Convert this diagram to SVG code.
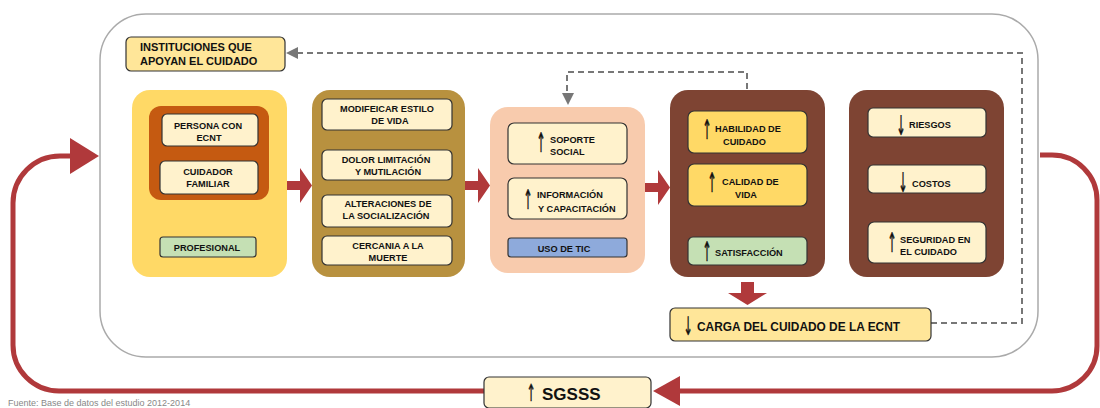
<svg xmlns="http://www.w3.org/2000/svg" width="1100" height="408" viewBox="0 0 1100 408">
<defs>
<style>
text{font-family:"Liberation Sans",Arial,sans-serif;font-weight:bold;fill:#111;}
.t{font-size:9.2px;}
.c{text-anchor:middle;}
.ar{font-family:"DejaVu Sans",sans-serif;font-weight:normal;font-size:18px;text-anchor:middle;fill:#111;stroke:#111;stroke-width:0.4;}
.inner{stroke:#333;stroke-width:1.2;}
.pale{fill:#fff2cc;}
.yel{fill:#ffd966;}
.grn{fill:#c5e0b4;}
.blu{fill:#8eaadb;}
.dash{fill:none;stroke:#777;stroke-width:2;stroke-dasharray:6 4;}
.red{fill:#b0393b;}
.redline{fill:none;stroke:#b0393b;stroke-width:5;}
</style>
</defs>

<rect id="outer-frame" x="100" y="14" width="938" height="343" rx="46" fill="#fff" stroke="#aaa" stroke-width="1.5"/>

<g id="connectors">
<path class="dash" d="M931 323 H1022 V53 H297"/>
<polygon points="286,53 298,47 298,59" fill="#777"/>
<path class="dash" d="M747 89 V72 H567 V93"/>
<polygon points="562,93 574,93 568,105" fill="#777"/>
<polygon class="red" points="287,181 300,181 300,168 312,185.5 300,203 300,190 287,190"/>
<polygon class="red" points="465,181 478,181 478,168 490,185.5 478,203 478,190 465,190"/>
<polygon class="red" points="645,183 658,183 658,170 670,187.5 658,205 658,192 645,192"/>
<polygon class="red" points="741,282 754,282 754,293 767,293 747.5,305 728,293 741,293"/>
<path class="redline" d="M72 156 H60 A47 47 0 0 0 13 203 V345 A46 46 0 0 0 59 391 H484"/>
<polygon class="red" points="99,156 70,138 70,174"/>
<path class="redline" d="M1040 155 H1052 A45 45 0 0 1 1097 200 V346 A45 45 0 0 1 1052 391 H678"/>
<polygon class="red" points="653,391 680,376 680,406"/>
</g>

<g id="instituciones">
<rect class="inner" x="126" y="37" width="159" height="34" rx="5" fill="#ffe699"/>
<text x="140" y="51" font-size="11">INSTITUCIONES QUE</text>
<text x="140" y="65" font-size="11">APOYAN EL CUIDADO</text>
</g>

<g id="box1">
<rect x="132" y="90" width="155" height="187" rx="18" fill="#ffd966"/>
<rect x="149" y="106" width="120" height="94" rx="12" fill="#c55a11"/>
<rect class="inner pale" x="162" y="114" width="96" height="32" rx="5"/>
<text class="t c" x="208" y="129">PERSONA CON</text>
<text class="t c" x="209" y="141">ECNT</text>
<rect class="inner pale" x="160" y="161" width="98" height="33" rx="5"/>
<text class="t c" x="208" y="175">CUIDADOR</text>
<text class="t c" x="208" y="187">FAMILIAR</text>
<rect class="inner grn" x="160" y="237" width="96" height="20" rx="3"/>
<text class="t c" x="207" y="251">PROFESIONAL</text>
</g>

<g id="box2">
<rect x="312" y="90" width="153" height="187" rx="18" fill="#b8913f"/>
<rect class="inner pale" x="322" y="99" width="130" height="31" rx="5"/>
<text class="t c" x="387" y="112">MODIFEICAR ESTILO</text>
<text class="t c" x="390" y="124">DE VIDA</text>
<rect class="inner pale" x="322" y="150" width="130" height="30" rx="5"/>
<text class="t c" x="386" y="163">DOLOR LIMITACIÓN</text>
<text class="t c" x="388" y="175">Y MUTILACIÓN</text>
<rect class="inner pale" x="322" y="195" width="130" height="32" rx="5"/>
<text class="t c" x="388" y="207">ALTERACIONES DE</text>
<text class="t c" x="386" y="219">LA SOCIALIZACIÓN</text>
<rect class="inner pale" x="322" y="236" width="130" height="29" rx="5"/>
<text class="t c" x="388" y="249">CERCANIA A LA</text>
<text class="t c" x="388" y="261">MUERTE</text>
</g>

<g id="box3">
<rect x="490" y="107" width="155" height="166" rx="18" fill="#f8cbad"/>
<rect class="inner pale" x="508" y="123" width="119" height="41" rx="6"/>
<text class="ar" transform="translate(541,152) scale(0.6,1.5)">↑</text>
<text class="t" x="550" y="143">SOPORTE</text>
<text class="t" x="550" y="155">SOCIAL</text>
<rect class="inner pale" x="508" y="178" width="119" height="41" rx="6"/>
<text class="ar" transform="translate(528,209) scale(0.6,1.5)">↑</text>
<text class="t" x="537" y="198">INFORMACIÓN</text>
<text class="t" x="538" y="212">Y CAPACITACIÓN</text>
<rect class="inner blu" x="508" y="238" width="119" height="19" rx="3"/>
<text class="t c" x="564" y="252">USO DE TIC</text>
</g>

<g id="box4">
<rect x="670" y="90" width="155" height="187" rx="18" fill="#7e4433"/>
<rect class="inner yel" x="688" y="111" width="119" height="42" rx="6"/>
<text class="ar" transform="translate(707,139) scale(0.6,1.5)">↑</text>
<text class="t" x="715" y="132">HABILIDAD DE</text>
<text class="t" x="723" y="145">CUIDADO</text>
<rect class="inner yel" x="688" y="164" width="119" height="42" rx="6"/>
<text class="ar" transform="translate(712,192) scale(0.6,1.5)">↑</text>
<text class="t" x="722" y="185">CALIDAD DE</text>
<text class="t" x="735" y="198">VIDA</text>
<rect class="inner grn" x="688" y="237" width="119" height="28" rx="5"/>
<text class="ar" transform="translate(707,261) scale(0.6,1.5)">↑</text>
<text class="t" x="715" y="256">SATISFACCIÓN</text>
</g>

<g id="box5">
<rect x="849" y="90" width="155" height="187" rx="18" fill="#7e4433"/>
<rect class="inner pale" x="868" y="108" width="118" height="29" rx="5"/>
<text class="ar" transform="translate(901,135) scale(0.6,1.5)">↓</text>
<text class="t" x="909" y="128">RIESGOS</text>
<rect class="inner pale" x="868" y="165" width="118" height="28" rx="5"/>
<text class="ar" transform="translate(903,192) scale(0.6,1.5)">↓</text>
<text class="t" x="912" y="187">COSTOS</text>
<rect class="inner pale" x="868" y="222" width="118" height="41" rx="6"/>
<text class="ar" transform="translate(892,252) scale(0.6,1.5)">↑</text>
<text class="t" x="900" y="243">SEGURIDAD EN</text>
<text class="t" x="900" y="255">EL CUIDADO</text>
</g>

<g id="carga">
<rect class="inner" x="670" y="308" width="261" height="33" rx="5" fill="#ffe699"/>
<text class="ar" transform="translate(688,335) scale(0.6,1.4)">↓</text>
<text x="697" y="331" font-size="13" textLength="203" lengthAdjust="spacingAndGlyphs">CARGA DEL CUIDADO DE LA ECNT</text>
</g>

<g id="sgsss">
<rect class="inner" x="484" y="377" width="167" height="31" rx="5" fill="#fff2cc"/>
<text class="ar" transform="translate(531,401) scale(0.6,1.3)">↑</text>
<text x="542" y="400" font-size="17">SGSSS</text>
</g>

<text x="8" y="406" font-size="9" style="font-weight:normal;fill:#888">Fuente: Base de datos del estudio 2012-2014</text>
</svg>
